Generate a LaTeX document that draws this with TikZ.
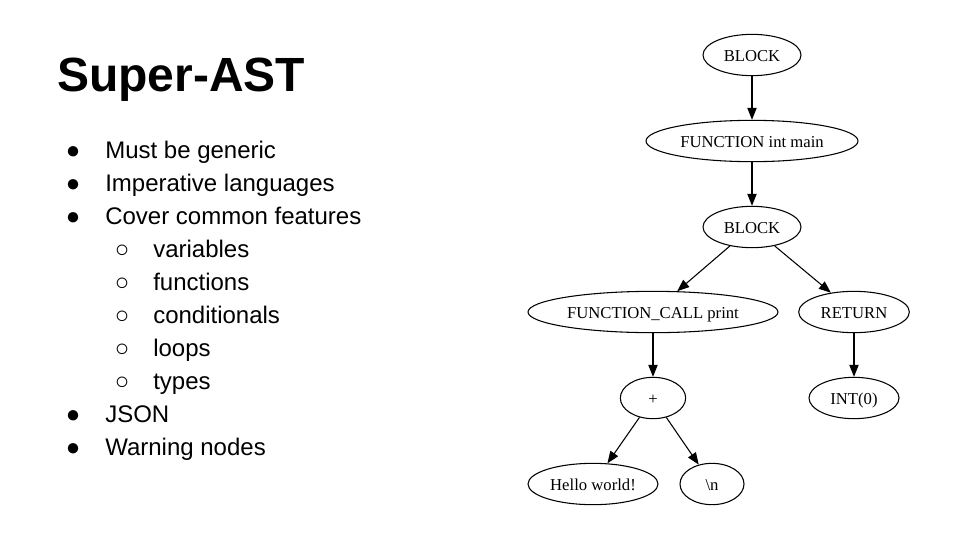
\documentclass[tikz,border=0pt]{standalone}
\usepackage{fontspec}
\setmainfont{Liberation Serif}
\newfontfamily\slidefont{Liberation Sans}
\usetikzlibrary{positioning}
\usetikzlibrary{arrows.meta}
\usetikzlibrary{shapes.geometric}

\begin{document}
\begin{tikzpicture}[x=0.75pt,y=-0.75pt,
    astnode/.style={draw, ellipse, line width=0.8pt, inner sep=0pt, minimum height=31pt, minimum width=#1, text height=10pt, text depth=0pt, font=\fontsize{12.5pt}{14pt}\selectfont},
    astedge/.style={line width=0.8pt, -{Triangle[length=9pt,width=7pt]}},
    item/.style={anchor=base west, inner sep=0pt, font=\slidefont\fontsize{18pt}{22pt}\selectfont},
    dot/.style={anchor=base, inner sep=0pt, font=\slidefont\fontsize{18pt}{22pt}\selectfont}]
    \useasboundingbox[fill=white] (0,0) rectangle (960,540);

    % slide text
    \node[anchor=base west, inner sep=0pt, font=\slidefont\bfseries\fontsize{36pt}{40pt}\selectfont] (title) at (57,91) {Super-AST};
    \foreach \n/\y/\txt in {0/158/Must be generic, 1/191/Imperative languages, 2/224/Cover common features, 5/422/JSON, 6/455/Warning nodes}{
        \node[dot] (b\n) at (73,\y) {●};
        \node[item] (t\n) at (105,\y) {\txt};
    }
    \foreach \n/\y/\txt in {0/257/variables, 1/290/functions, 2/323/conditionals, 3/356/loops, 4/389/types}{
        \node[dot] (s\n) at (122,\y) {○};
        \node[item] (u\n) at (153,\y) {\txt};
    }

    % tree
    \node[astnode=73.5pt] (block1) at (752,55) {BLOCK};
    \node[astnode=159pt] (fmain) at (752,141) {FUNCTION int main};
    \node[astnode=73.5pt] (block2) at (752,227) {BLOCK};
    \node[astnode=187.5pt] (fcall) at (653,312) {FUNCTION\_CALL print};
    \node[astnode=83pt] (ret) at (854,312) {RETURN};
    \node[astnode=49pt] (plus) at (653,398) {+};
    \node[astnode=67.5pt] (int0) at (854,398) {INT(0)};
    \node[astnode=97.5pt] (hello) at (593,484) {Hello world!};
    \node[astnode=48pt] (nl) at (712,484) {\textbackslash n};

    \draw[astedge] (block1) -- (fmain);
    \draw[astedge] (fmain) -- (block2);
    \draw[astedge] (block2) -- (fcall);
    \draw[astedge] (block2) -- (ret);
    \draw[astedge] (fcall) -- (plus);
    \draw[astedge] (ret) -- (int0);
    \draw[astedge] (plus) -- (hello);
    \draw[astedge] (plus) -- (nl);
\end{tikzpicture}
\end{document}
